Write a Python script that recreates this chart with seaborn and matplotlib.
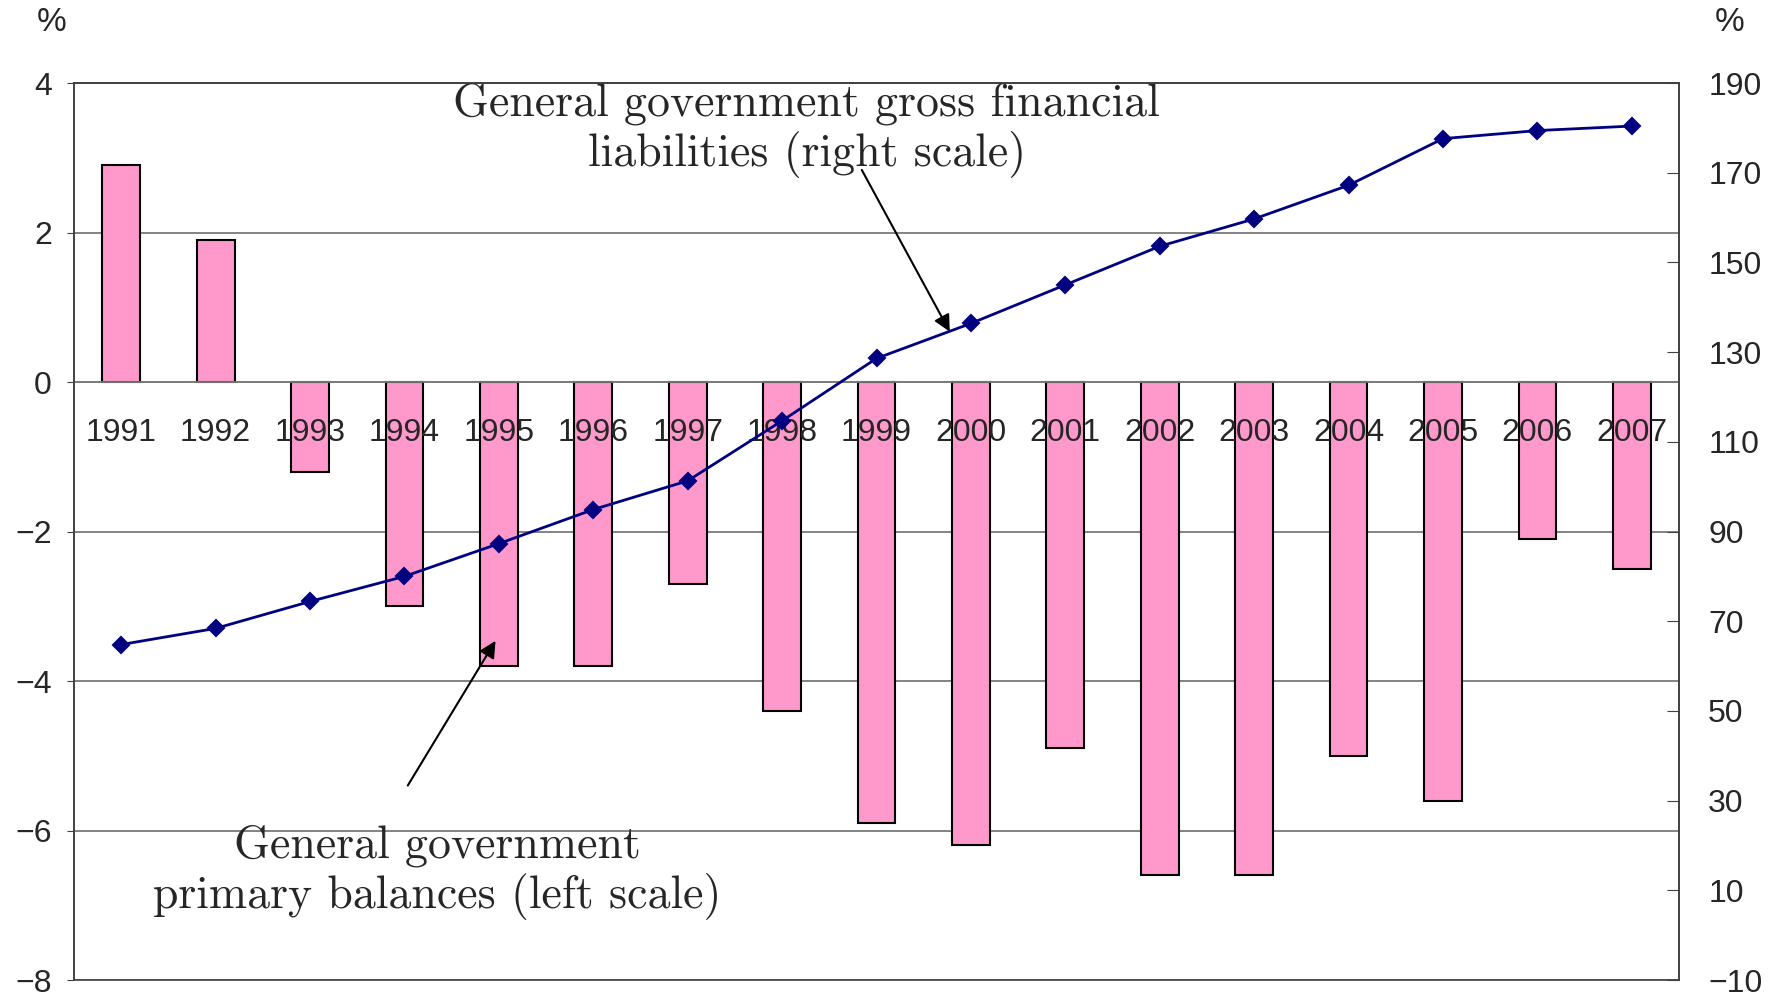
import numpy as np
import pandas as pd
import matplotlib
matplotlib.use("Agg")
import matplotlib.pyplot as plt
from matplotlib.ticker import FixedLocator
import seaborn as sns

# Data
years = [str(y) for y in range(1991, 2008)]
primary_balance = [2.9, 1.9, -1.2, -3.0, -3.8, -3.8, -2.7, -4.4, -5.9,
                   -6.2, -4.9, -6.6, -6.6, -5.0, -5.6, -2.1, -2.5]
gross_liabilities = [64.8, 68.4, 74.4, 80.0, 87.3, 94.9, 101.3, 114.7, 128.6,
                     136.4, 145.0, 153.6, 159.7, 167.2, 177.6, 179.4, 180.4]
left_ticks = [4, 2, 0, -2, -4, -6, -8]
right_ticks = [190, 170, 150, 130, 110, 90, 70, 50, 30, 10, -10]

label_liab = "General government gross financial\nliabilities (right scale)"
label_bal = "General government\nprimary balances (left scale)"

df = pd.DataFrame({"year": years, "balance": primary_balance,
                   "liabilities": gross_liabilities})

sns.set_style("white")
plt.rcParams["font.family"] = ["Liberation Sans", "DejaVu Sans"]
plt.rcParams["axes.unicode_minus"] = True

frame_col = "#404040"
grid_col = "#7a7a7a"
tick_size = 23

fig = plt.figure(figsize=(17.79, 9.99), dpi=100)
ax = fig.add_axes([0.0416, 0.019, 0.9022, 0.8979])

sns.barplot(data=df, x="year", y="balance", color="#FF99CC", saturation=1,
            edgecolor="black", linewidth=1.5, width=0.4, ax=ax)
ax.set_ylim(-8, 4)
ax.set_xlim(-0.5, len(years) - 0.5)
ax.set_yticks(left_ticks)
ax.yaxis.grid(True, color=grid_col, lw=1.3)
ax.set_axisbelow(True)
ax.xaxis.set_zorder(4)
ax.set_xlabel("")
ax.set_ylabel("")

# x axis sits on zero, ticks between categories pointing up
ax.spines["bottom"].set_position(("data", 0))
ax.spines["bottom"].set_color(grid_col)
ax.spines["bottom"].set_linewidth(1.3)
ax.xaxis.set_minor_locator(FixedLocator(np.arange(0.5, len(years) - 1, 1)))
ax.tick_params(axis="x", which="major", length=0, pad=26, labelsize=tick_size)
ax.tick_params(axis="x", which="minor", direction="in", length=9,
               color=grid_col, width=1)
ax.tick_params(axis="y", direction="out", length=5, color=frame_col,
               pad=11, labelsize=tick_size)
for s in ["left", "top", "right"]:
    ax.spines[s].set_color(frame_col)
    ax.spines[s].set_linewidth(1.2)

ax2 = ax.twinx()
sns.pointplot(data=df, x="year", y="liabilities", color="#000080",
              markers="D", linestyles="-", markersize=8, linewidth=2,
              errorbar=None, ax=ax2)
ax2.set_ylim(-10, 190)
ax2.set_yticks(right_ticks)
ax2.set_xlim(-0.5, len(years) - 0.5)
ax2.set_ylabel("")
ax2.tick_params(axis="y", direction="in", length=9, color=frame_col,
                pad=21, labelsize=tick_size)
for s in ["left", "top", "right", "bottom"]:
    ax2.spines[s].set_color(frame_col)
    ax2.spines[s].set_linewidth(1.2)

fig.text(0.029, 0.977, "%", ha="center", va="center", fontsize=24)
fig.text(0.972, 0.977, "%", ha="center", va="center", fontsize=24)

# Annotations
ax.text(7.26, 3.37, label_liab, ha="center", va="center", fontfamily="cmr10",
        fontsize=33, linespacing=1.16, zorder=5)
ax.annotate("", xy=(8.79, 0.64), xytext=(7.83, 2.87),
            arrowprops=dict(arrowstyle="-|>", color="black", lw=1.5,
                            mutation_scale=25), zorder=5)
ax.text(3.35, -6.56, label_bal, ha="center", va="center", fontfamily="cmr10",
        fontsize=33, linespacing=1.16, zorder=5)
ax.annotate("", xy=(3.98, -3.43), xytext=(3.02, -5.43),
            arrowprops=dict(arrowstyle="-|>", color="black", lw=1.5,
                            mutation_scale=25), zorder=5)

fig.savefig("out.png", dpi=100)
